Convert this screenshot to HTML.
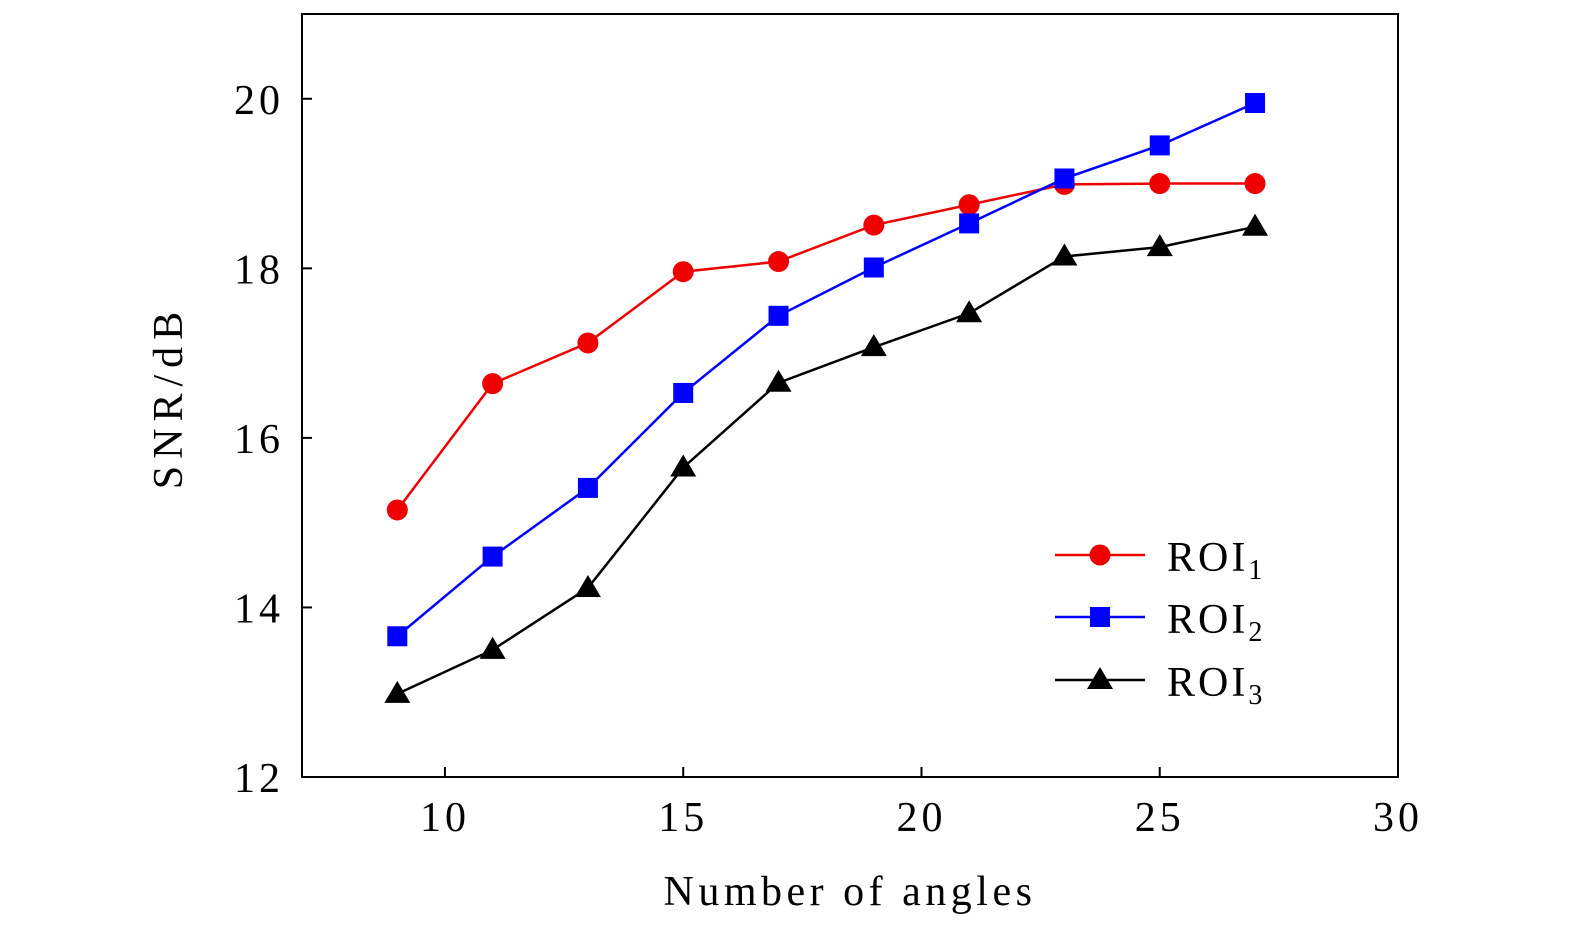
<!DOCTYPE html>
<html><head><meta charset="utf-8"><style>
html,body{margin:0;padding:0;background:#fff}
svg text{font-family:"Liberation Serif",serif;fill:#000}
</style></head><body>
<svg id="chart" width="1575" height="935">
<rect x="302" y="14" width="1096" height="763" fill="none" stroke="#000" stroke-width="2"/>
<g id="axes"></g>
<g id="series"></g>
<text x="850" y="905" font-size="42" letter-spacing="4.5" text-anchor="middle">Number of angles</text>
<text transform="translate(182,397) rotate(-90)" font-size="42" letter-spacing="7" text-anchor="middle">SNR/dB</text>
<g>
<g><line x1="1055" y1="555" x2="1145" y2="555" stroke="#e00" stroke-width="2.5"/><circle cx="1100" cy="555" r="10.5" fill="#e00"/><text x="1167" y="571" font-size="42" letter-spacing="3">ROI<tspan font-size="28" dy="8">1</tspan></text></g>
<g><line x1="1055" y1="617" x2="1145" y2="617" stroke="#00f" stroke-width="2.5"/><rect x="1090" y="607" width="20" height="20" fill="#00f"/><text x="1167" y="633" font-size="42" letter-spacing="3">ROI<tspan font-size="28" dy="8">2</tspan></text></g>
<g><line x1="1055" y1="680" x2="1145" y2="680" stroke="#000" stroke-width="2.5"/><polygon points="1100,667 1113,689 1087,689" fill="#000"/><text x="1167" y="696" font-size="42" letter-spacing="3">ROI<tspan font-size="28" dy="8">3</tspan></text></g>
</g>
</svg>
<script>
const angles=[9,11,13,15,17,19,21,23,25,27];
const roi1=[15.15,16.64,17.12,17.96,18.08,18.51,18.75,18.99,19.0,19.0];
const roi2=[13.66,14.6,15.41,16.53,17.44,18.01,18.53,19.06,19.45,19.95];
const roi3=[12.98,13.5,14.23,15.65,16.65,17.07,17.47,18.14,18.25,18.49];
const xTicks=[10,15,20,25,30];
const yTicks=[12,14,16,18,20];
const NS="http://www.w3.org/2000/svg";
const X=v=>302+(v-7)*(1096/23);
const Y=v=>777-(v-12)*(763/9);
function mk(t,a,p){const e=document.createElementNS(NS,t);for(const k in a)e.setAttribute(k,a[k]);p.appendChild(e);return e;}
const ax=document.getElementById('axes');
xTicks.forEach(t=>{
 const l=mk('line',{x1:X(t),x2:X(t),y1:777,y2:767,stroke:'#000','stroke-width':2},ax);
 
 
 const tx=mk('text',{x:X(t),y:831,'font-size':42,'letter-spacing':4,'text-anchor':'middle'},ax);tx.textContent=t;
 
 
});
yTicks.forEach(t=>{
 const l=mk('line',{x1:302,x2:312,y1:Y(t),y2:Y(t),stroke:'#000','stroke-width':2},ax);
 
 
 const tx=mk('text',{x:284,y:Y(t)+15,'font-size':42,'letter-spacing':4,'text-anchor':'end'},ax);tx.textContent=t;
 
 
});
const sg=document.getElementById('series');
[[roi1,'#e00','circle','roi1'],[roi2,'#00f','square','roi2'],[roi3,'#000','triangle','roi3']].forEach(([d,c,m,n])=>{
 const g=mk('g',{},sg);
 
 
 const pl=mk('polyline',{points:d.map((v,i)=>X(angles[i])+','+Y(v)).join(' '),fill:'none',stroke:c,'stroke-width':2.5},g);
 
 
 d.forEach((v,i)=>{
  const x=X(angles[i]),y=Y(v);let e;
  if(m==='circle')e=mk('circle',{cx:x,cy:y,r:10.5,fill:c},g);
  else if(m==='square')e=mk('rect',{x:x-10,y:y-10,width:20,height:20,fill:c},g);
  else e=mk('polygon',{points:`${x},${y-13} ${x+13},${y+9} ${x-13},${y+9}`,fill:c},g);
  
  
 });
});
</script>
</body></html>
